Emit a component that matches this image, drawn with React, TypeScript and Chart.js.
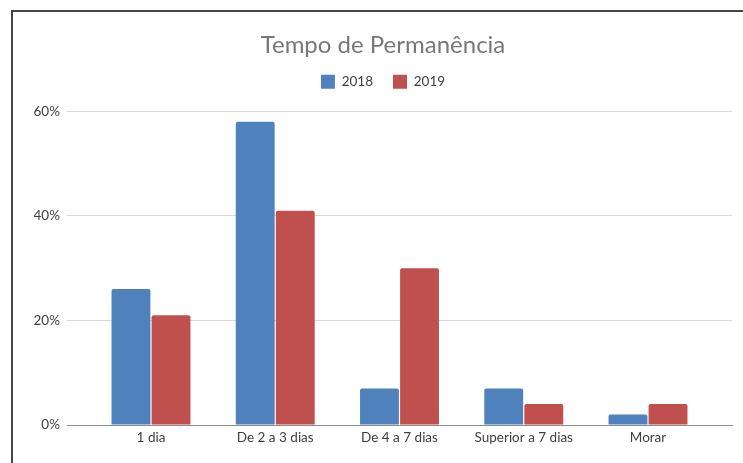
import React, { useEffect, useRef } from "react";
import { Chart, registerables } from "chart.js";

Chart.register(...registerables);

const categories = ["1 dia", "De 2 a 3 dias", "De 4 a 7 dias", "Superior a 7 dias", "Morar"];
const values2018 = [0.26, 0.58, 0.07, 0.07, 0.02];
const values2019 = [0.21, 0.41, 0.30, 0.04, 0.04];
const yTicks = [0, 0.2, 0.4, 0.6];
const titleText = "Tempo de Permanência";

const FONT = "Lato, 'Open Sans', sans-serif";
const EXTRA = 0.176; // extra category-units margin on each side of x axis

export default function App() {
  const ref = useRef<HTMLCanvasElement>(null);
  useEffect(() => {
    if (!ref.current) return;
    const chart = new Chart(ref.current, {
      type: "bar",
      data: {
        labels: categories,
        datasets: [
          { label: "2018", data: values2018, backgroundColor: "#4F81BD", borderWidth: 0, borderRadius: 2, barPercentage: 0.97, categoryPercentage: 0.645 },
          { label: "2019", data: values2019, backgroundColor: "#C0504D", borderWidth: 0, borderRadius: 2, barPercentage: 0.97, categoryPercentage: 0.645 },
        ],
      },
      options: {
        animation: false,
        responsive: false,
        maintainAspectRatio: false,
        layout: { padding: { left: 34, right: 11, top: 0, bottom: 0 } },
        plugins: {
          title: {
            display: true,
            text: titleText,
            color: "#787878",
            font: { family: FONT, size: 24, weight: "normal", lineHeight: 0.8 },
            padding: { top: 35.5, bottom: 0 },
          },
          subtitle: {
            display: true,
            text: " ",
            font: { size: 1, lineHeight: 1 },
            padding: { top: 0, bottom: 11.6 },
          },
          legend: {
            display: true,
            position: "top",
            weight: 1750,
            labels: {
              boxWidth: 14,
              boxHeight: 14,
              padding: 20,
              color: "#404040",
              font: { family: FONT, size: 13.5 },
            },
          },
          tooltip: { enabled: false },
        },
        scales: {
          x: {
            offset: true,
            grid: { display: false, drawTicks: false },
            border: { display: true, color: "#8c8c8c", width: 1 },
            ticks: { color: "#404040", font: { family: FONT, size: 13.5 }, padding: 5, maxRotation: 0, autoSkip: false },
            afterBuildTicks: (scale: any) => {
              const n = categories.length;
              scale._startValue = -0.5 - EXTRA;
              scale._valueRange = n + 2 * EXTRA;
            },
            afterFit: (scale: any) => {
              scale.height = 38;
            },
          },
          y: {
            min: 0,
            max: 0.6,
            afterBuildTicks: (scale: any) => {
              scale.ticks = yTicks.map((v) => ({ value: v }));
            },
            afterFit: (scale: any) => {
              scale.width = 33;
            },
            grid: { color: "#d9d9d9", lineWidth: 1, drawTicks: false },
            border: { display: false },
            ticks: {
              color: "#404040",
              font: { family: FONT, size: 13.5 },
              padding: 7,
              callback: (v: any) => Math.round(Number(v) * 100) + "%",
            },
          },
        },
      },
    });
    return () => chart.destroy();
  }, []);

  return (
    <div style={{ position: "fixed", left: 0, top: 0, width: 743, height: 463, background: "#fff", overflow: "hidden" }}>
      <canvas ref={ref} width={743} height={463} style={{ position: "absolute", left: 0, top: 0, width: 743, height: 463 }} />
      <div style={{ position: "absolute", left: 11, top: 10, width: 800, height: 500, borderLeft: "2px solid #454545", borderTop: "2px solid #454545", pointerEvents: "none" }} />
    </div>
  );
}
